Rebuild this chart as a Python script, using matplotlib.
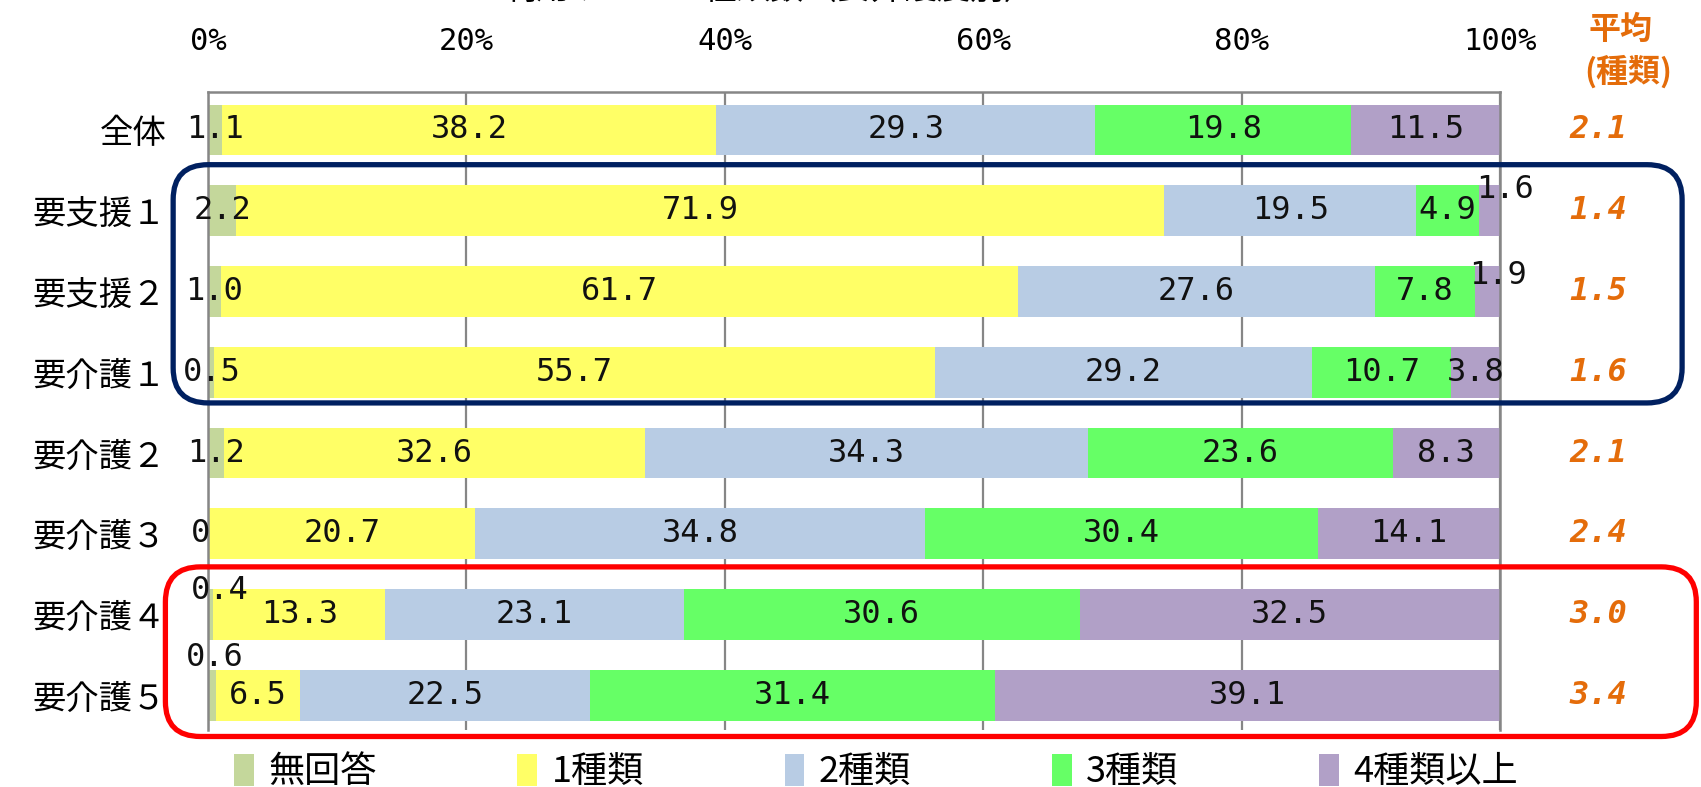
from matplotlib import pyplot as plt
from matplotlib.patches import FancyBboxPatch
import matplotlib.transforms as mtransforms
import numpy as np

plt.rcParams['font.family'] = ['Noto Sans CJK JP', 'DejaVu Sans']

categories = ['全体', '要支援１', '要支援２', '要介護１', '要介護２', '要介護３', '要介護４', '要介護５']
series_names = ['無回答', '1種類', '2種類', '3種類', '4種類以上']
no_answer = [1.1, 2.2, 1.0, 0.5, 1.2, 0, 0.4, 0.6]
one_type = [38.2, 71.9, 61.7, 55.7, 32.6, 20.7, 13.3, 6.5]
two_types = [29.3, 19.5, 27.6, 29.2, 34.3, 34.8, 23.1, 22.5]
three_types = [19.8, 4.9, 7.8, 10.7, 23.6, 30.4, 30.6, 31.4]
four_plus = [11.5, 1.6, 1.9, 3.8, 8.3, 14.1, 32.5, 39.1]
averages = ['2.1', '1.4', '1.5', '1.6', '2.1', '2.4', '3.0', '3.4']
xtick_labels = ['0%', '20%', '40%', '60%', '80%', '100%']

colors = ['#c4d79b', '#ffff66', '#b8cce4', '#66ff66', '#b1a0c7']
orange = '#e46c0a'
num_font = 'DejaVu Sans Mono'

# label nudges for tiny segments (row, series) -> (dx in %, dy in rows)
nudges = {(1, 4): (1.2, -0.26), (2, 4): (0.8, -0.2),
          (6, 0): (0.7, -0.3), (7, 0): (0.2, -0.47), (5, 0): (-0.6, 0)}

fig = plt.figure(figsize=(17.01, 7.87), dpi=100)
ax = fig.add_axes([0.1223, 0.0724, 0.7595, 0.8107])

data = np.array([no_answer, one_type, two_types, three_types, four_plus])
totals = data.sum(axis=0)
pct = data / totals * 100
y = np.arange(len(categories))

left = np.zeros(len(categories))
for i, name in enumerate(series_names):
    ax.barh(y, pct[i], left=left, height=0.63, color=colors[i],
            label=name, zorder=2)
    for r in range(len(categories)):
        cx = left[r] + pct[i][r] / 2
        dx, dy = nudges.get((r, i), (0, 0))
        txt = '0' if data[i][r] == 0 else f'{data[i][r]:.1f}'
        ax.text(cx + dx, y[r] + dy, txt, ha='center', va='center',
                fontsize=23, family=num_font, color='#111111',
                zorder=5, clip_on=False)
    left += pct[i]

for r, a in enumerate(averages):
    ax.text(107.6, y[r], a, ha='center', va='center', fontsize=23,
            family=num_font, fontweight='bold', fontstyle='oblique',
            color=orange, clip_on=False)
ax.text(109.3, -1.24, '平均', ha='center', va='center', fontsize=23,
        fontweight='bold', color=orange, clip_on=False)
ax.text(109.9, -0.72, '(種類)', ha='center', va='center', fontsize=23,
        fontweight='bold', color=orange, clip_on=False)

ax.set_xlim(0, 100)
ax.set_ylim(7.43, -0.47)
ax.xaxis.tick_top()
ax.set_xticks(np.arange(0, 101, 20))
ax.set_xticklabels(xtick_labels, family=num_font, fontsize=22)
ax.set_yticks(y)
ax.set_yticklabels(categories, fontsize=24)
ax.tick_params(axis='x', length=0, pad=26)
ax.tick_params(axis='y', length=0, pad=30)
ax.grid(axis='x', color='#868686', lw=1.6, zorder=0)
for side in ['left', 'top', 'right']:
    ax.spines[side].set_color('#868686')
    ax.spines[side].set_linewidth(1.8)
    ax.spines[side].set_zorder(4)
ax.spines['bottom'].set_visible(False)

# rounded highlight boxes, placed from data coords
def box(x0, x1, y0, y1, color):
    (px0, py0), (px1, py1) = ax.transData.transform([(x0, y1), (x1, y0)])
    p = FancyBboxPatch((px0 + 35, py0 + 35), px1 - px0 - 70, py1 - py0 - 70,
                       boxstyle='round,pad=35', transform=mtransforms.IdentityTransform(),
                       fill=False, edgecolor=color, lw=3.8, zorder=10)
    fig.patches.append(p)

box(-2.7, 114.1, 0.43, 3.38, '#002060')
box(-3.3, 115.2, 5.41, 7.51, '#ff0000')

fig.legend(loc='center', bbox_to_anchor=(0.515, 0.019), ncol=5, frameon=False,
           fontsize=26, handlelength=0.55, handleheight=1.0, handletextpad=0.4,
           columnspacing=3.9)

fig.text(0.453, 0.991, '利用サービス種類数（要介護度別）', ha='center', va='bottom',
         fontsize=24)

fig.savefig('out.png', dpi=100)
